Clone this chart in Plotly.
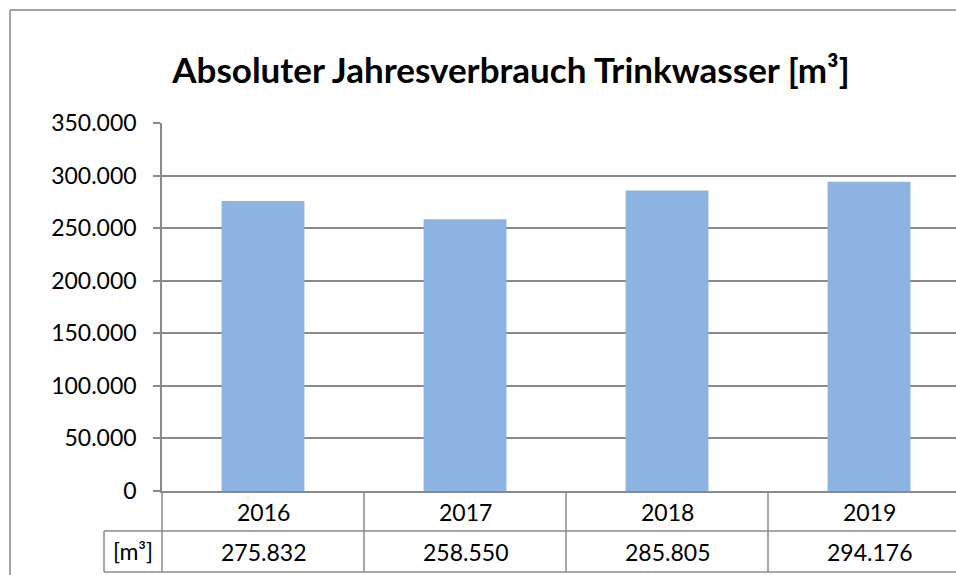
import plotly.graph_objects as go

years = ["2016", "2017", "2018", "2019"]
consumption = [275832, 258550, 285805, 294176]
y_ticks = [0, 50000, 100000, 150000, 200000, 250000, 300000, 350000]
unit_label = "[m³]"
title_text = "Absoluter Jahresverbrauch Trinkwasser [m³]"

W, H = 956, 575
L, R, T, B = 162, 0, 123, 84
PW = W - L - R
PH = H - T - B

def px_x(p):
    return (p - L) / PW

def px_y(p):
    return (H - B - p) / PH

grid = "#8a8a8a"
font = "Lato"

fig = go.Figure()
fig.add_trace(go.Bar(
    x=years, y=consumption, width=0.41,
    marker=dict(color="#8DB3E2", line=dict(width=0)),
    hoverinfo="skip",
))

shapes = []
bottom = px_y(572)
mid = px_y(531)
for i in range(len(years) - 1):
    shapes.append(dict(type="line", xref="x", yref="paper", x0=i + 0.5, x1=i + 0.5,
                       y0=0, y1=bottom, line=dict(color=grid, width=1.5)))
shapes.append(dict(type="line", xref="paper", yref="paper", x0=0, x1=0, y0=0, y1=bottom,
                   line=dict(color=grid, width=1.5)))
shapes.append(dict(type="line", xref="paper", yref="paper", x0=px_x(104), x1=1.05, y0=mid, y1=mid,
                   line=dict(color=grid, width=1.5)))
shapes.append(dict(type="line", xref="paper", yref="paper", x0=px_x(104), x1=1.05, y0=bottom, y1=bottom,
                   line=dict(color=grid, width=1.5)))
shapes.append(dict(type="line", xref="paper", yref="paper", x0=px_x(104), x1=px_x(104), y0=mid, y1=bottom,
                   line=dict(color=grid, width=1.5)))
# chart border
shapes.append(dict(type="line", xref="paper", yref="paper", x0=px_x(10), x1=1.05, y0=px_y(10), y1=px_y(10),
                   line=dict(color="#868686", width=1.5)))
shapes.append(dict(type="line", xref="paper", yref="paper", x0=px_x(10), x1=px_x(10), y0=px_y(10), y1=-0.5,
                   line=dict(color="#868686", width=1.5)))

annotations = []
for i, (yr, v) in enumerate(zip(years, consumption)):
    annotations.append(dict(x=i, xref="x", yref="paper", y=px_y(512), text=yr, showarrow=False,
                            font=dict(family=font, size=23, color="black"),
                            xanchor="center", yanchor="middle"))
    annotations.append(dict(x=i, xref="x", yref="paper", y=px_y(552), text=f"{v:,}".replace(",", "."),
                            showarrow=False, font=dict(family=font, size=23, color="black"),
                            xanchor="center", yanchor="middle"))
annotations.append(dict(x=px_x(133), xref="paper", yref="paper", y=px_y(551), text=unit_label, showarrow=False,
                        font=dict(family=font, size=23, color="black"), xanchor="center", yanchor="middle"))

fig.update_layout(
    width=W, height=H,
    margin=dict(l=L, r=R, t=T, b=B, pad=0),
    paper_bgcolor="white", plot_bgcolor="white",
    separators=",.",
    showlegend=False,
    title=dict(text=title_text, x=px_x(511), xref="paper", xanchor="center",
               y=1 - 71 / H, yref="container", yanchor="middle",
               font=dict(family=font, size=35, color="black", weight="bold")),
    shapes=shapes,
    annotations=annotations,
    xaxis=dict(type="category", range=[-0.5, -0.5 + PW / 202], showticklabels=False,
               showgrid=False, showline=True, linecolor=grid, linewidth=1.5, ticks="", zeroline=False,
               fixedrange=True),
    yaxis=dict(range=[0, 350000], tickvals=y_ticks, tickformat=",d", ticks="outside", ticklen=7,
               tickcolor=grid, tickwidth=1.5, showgrid=True, gridcolor=grid, gridwidth=1.5,
               showline=True, linecolor=grid, linewidth=1.5, zeroline=False,
               tickfont=dict(family=font, size=23, color="black"), ticklabelstandoff=12),
)

fig.write_html("out.html", config={"displayModeBar": False},
               post_script="document.body.style.margin='0';document.body.style.overflow='hidden';"
                           "document.documentElement.style.overflow='hidden';")
